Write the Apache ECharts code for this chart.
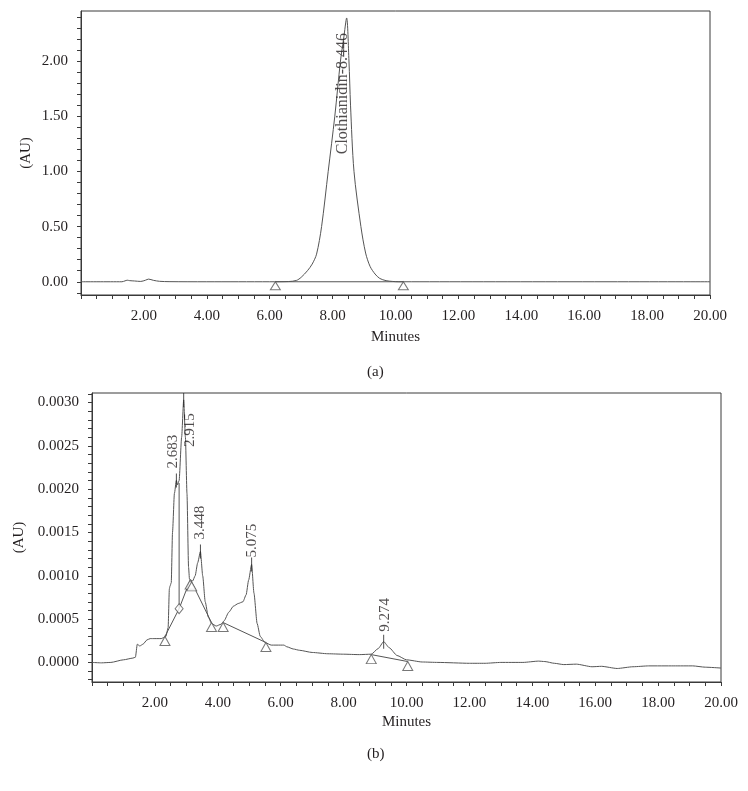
<!DOCTYPE html>
<html>
<head>
<meta charset="utf-8">
<script src="https://cdn.jsdelivr.net/npm/echarts@6/dist/echarts.min.js"></script>
<style>
html,body{margin:0;padding:0;background:#fff;}
#chart{width:748px;height:791px;}
</style>
</head>
<body>
<div id="chart"></div>
<script>
// ---------- DATA ----------
// (a) chromatogram: minutes / AU
const topTimes  = [0, 1.3, 1.4, 1.47, 1.55, 1.7, 1.9, 2.05, 2.15, 2.3, 2.5, 2.8, 4.0, 6.0, 6.6, 6.85, 7.0, 7.2, 7.35, 7.49, 7.65, 7.86, 8.07, 8.25, 8.35, 8.446, 8.52, 8.57, 8.68, 8.9, 9.05, 9.19, 9.35, 9.5, 9.7, 9.9, 10.1, 10.5, 20];
const topValues = [0, 0, 0.008, 0.014, 0.01, 0.007, 0.003, 0.014, 0.024, 0.013, 0.004, 0.001, 0, 0, 0.002, 0.012, 0.04, 0.1, 0.16, 0.25, 0.5, 1.0, 1.5, 2.0, 2.2, 2.39, 2.0, 1.6, 1.0, 0.5, 0.26, 0.14, 0.07, 0.03, 0.01, 0.003, 0, 0, 0];
const topPeakTime = [8.446];
const topPeakHeight = [2.39];
const topPeakName = ['Clothianidin'];
const topBaseTimes = [6.18, 10.25];
const topBaseValues = [0, 0];

// (b) chromatogram
const botTimes  = [0, 0.3, 0.6, 1.0, 1.3, 1.38, 1.44, 1.52, 1.62, 1.75, 1.85, 2.0, 2.2, 2.35, 2.42, 2.46, 2.48, 2.52, 2.56, 2.62, 2.683, 2.72, 2.77, 2.85, 2.915, 2.97, 3.02, 3.07, 3.1, 3.2, 3.28, 3.36, 3.448, 3.52, 3.6, 3.7, 3.8, 3.95, 4.1, 4.2, 4.35, 4.5, 4.65, 4.8, 4.9, 4.98, 5.075, 5.15, 5.25, 5.35, 5.5, 5.7, 6.0, 6.1, 6.2, 6.4, 6.6, 7.0, 7.5, 8.0, 8.5, 8.88, 9.1, 9.274, 9.45, 9.7, 10.0, 10.5, 11.0, 12.0, 12.5, 13.0, 13.7, 14.2, 14.4, 14.7, 15.0, 15.4, 15.9, 16.2, 16.7, 17.2, 17.7, 18.5, 19.1, 19.5, 20.0];
const botValues = [0, -0.000005, 0, 0.00003, 0.00005, 0.00006, 0.00021, 0.00019, 0.00021, 0.00026, 0.000275, 0.000275, 0.000275, 0.0003, 0.0004, 0.00085, 0.00088, 0.00092, 0.0015, 0.00195, 0.0021, 0.00205, 0.0021, 0.0026, 0.00303, 0.0026, 0.00195, 0.0011, 0.00096, 0.00094, 0.001, 0.00115, 0.00128, 0.001, 0.0007, 0.00052, 0.00045, 0.00042, 0.00044, 0.00048, 0.00058, 0.00065, 0.00068, 0.0007, 0.00078, 0.00095, 0.00113, 0.0008, 0.00045, 0.0003, 0.00023, 0.0002, 0.0002, 0.0002, 0.00018, 0.000155, 0.00014, 0.000115, 0.0001, 0.000095, 0.00009, 0.000095, 0.00016, 0.00024, 0.00017, 0.00008, 0.00003, 0.000005, 0, -0.00001, -0.00001, 0, 0, 0.000015, 0.00001, -0.00001, -0.000025, -0.00002, -0.00005, -0.000045, -0.00007, -0.00005, -0.00004, -0.00004, -0.00004, -0.000055, -0.000065];
const botPeakTimes   = [2.683, 2.915, 3.448, 5.075, 9.274];
const botPeakHeights = [0.0021, 0.00303, 0.00128, 0.00113, 0.00024];
// integration baselines (start/end markers)
const botBaseSegments = [
  [[2.32, 0.0003], [2.77, 0.00062], [3.12, 0.00095]],
  [[3.15, 0.00094], [3.80, 0.00046]],
  [[4.17, 0.00046], [5.53, 0.00023]],
  [[8.88, 0.00009], [10.04, 0.00001]],
  [[2.77, 0.00062], [2.77, 0.00207]]
];
const botTriangleTimes  = [2.32, 3.12, 3.17, 3.80, 4.17, 5.53, 8.88, 10.04];
const botTriangleValues = [0.0003, 0.00095, 0.00093, 0.00046, 0.00046, 0.00023, 0.00009, 0.00001];
const botDiamondTimes  = [2.77];
const botDiamondValues = [0.00062];

// tick labels
const xLabelValues   = [2, 4, 6, 8, 10, 12, 14, 16, 18, 20];
const topYLabelValues = [0, 0.5, 1.0, 1.5, 2.0];
const botYLabelValues = [0, 0.0005, 0.001, 0.0015, 0.002, 0.0025, 0.003];

// ---------- STYLE ----------
const FONT = '"Liberation Serif", "DejaVu Serif", serif';
const TXT = '#231f20';
const LINE = '#555555';
const AXIS = '#3a3a3a';

const zip = (a, b) => a.map((v, i) => [v, b[i]]);
const topYTicks = []; for (let i = -1; i <= 24; i++) topYTicks.push(Math.round(i) / 10);
const botYTicks = []; for (let i = -2; i <= 31; i++) botYTicks.push(Math.round(i * 10) / 100000);

function xAxisCfg(gridIndex, nameGap) {
  return {
    type: 'value', gridIndex, min: 0, max: 20, interval: 0.5,
    name: 'Minutes', nameLocation: 'middle', nameGap, nameMoveOverlap: false,
    nameTextStyle: { fontFamily: FONT, fontSize: 15, color: TXT },
    axisLine: { show: true, onZero: false, lineStyle: { color: AXIS, width: 1 } },
    axisTick: { show: true, length: 4, lineStyle: { color: AXIS } },
    splitLine: { show: false },
    axisLabel: {
      margin: 14, fontFamily: FONT, fontSize: 15, color: TXT,
      showMinLabel: true, showMaxLabel: true,
      formatter: v => xLabelValues.some(x => Math.abs(x - v) < 1e-9) ? v.toFixed(2) : ''
    }
  };
}
function yAxisCfg(gridIndex, min, max, ticks, labels, digits, nameGap) {
  return {
    type: 'value', gridIndex, min, max,
    name: '(AU)', nameLocation: 'middle', nameGap, nameMoveOverlap: false,
    nameTextStyle: { fontFamily: FONT, fontSize: 15, color: TXT },
    axisLine: { show: true, onZero: false, lineStyle: { color: AXIS, width: 1 } },
    axisTick: { show: true, length: 4, customValues: ticks, lineStyle: { color: AXIS } },
    splitLine: { show: false },
    axisLabel: { margin: 13, fontFamily: FONT, fontSize: 15, color: TXT, customValues: labels,
      formatter: v => v.toFixed(digits) }
  };
}

const series = [];
// (a) trace
series.push({ type: 'line', xAxisIndex: 0, yAxisIndex: 0, data: zip(topTimes, topValues),
  showSymbol: false, smooth: 0.3, lineStyle: { color: LINE, width: 1 }, silent: true, z: 3 });
series.push({ type: 'line', xAxisIndex: 0, yAxisIndex: 0, data: zip(topBaseTimes, topBaseValues),
  showSymbol: false, lineStyle: { color: LINE, width: 1 }, silent: true, z: 3 });
series.push({ type: 'scatter', xAxisIndex: 0, yAxisIndex: 0, data: zip(topBaseTimes, topBaseValues),
  symbol: 'triangle', symbolSize: [10, 8], symbolOffset: [0, 4],
  itemStyle: { color: '#fff', borderColor: LINE, borderWidth: 1 }, silent: true, z: 4 });
series.push({ type: 'scatter', xAxisIndex: 0, yAxisIndex: 0,
  data: topPeakTime.map((t, i) => ({ value: [t, topPeakHeight[i]], name: topPeakName[i] })),
  symbolSize: 2, itemStyle: { color: 'transparent' }, silent: true, z: 5,
  label: { show: true, rotate: 90, position: [1 - 3.5, 1 + 15], align: 'right', verticalAlign: 'middle',
    fontFamily: FONT, fontSize: 16, color: TXT,
    formatter: p => p.name + '-' + p.value[0].toFixed(3) } });

// (b) trace
series.push({ type: 'line', xAxisIndex: 1, yAxisIndex: 1, data: zip(botTimes, botValues),
  showSymbol: false, smooth: 0.2, smoothMonotone: 'x', lineStyle: { color: LINE, width: 1 }, silent: true, z: 3 });
botBaseSegments.forEach(seg => series.push({ type: 'line', xAxisIndex: 1, yAxisIndex: 1, data: seg,
  showSymbol: false, lineStyle: { color: LINE, width: 1 }, silent: true, z: 3 }));
series.push({ type: 'scatter', xAxisIndex: 1, yAxisIndex: 1, data: zip(botTriangleTimes, botTriangleValues),
  symbol: 'triangle', symbolSize: [10, 9], symbolOffset: [0, 4.5],
  itemStyle: { color: '#fff', borderColor: LINE, borderWidth: 1 }, silent: true, z: 4 });
series.push({ type: 'scatter', xAxisIndex: 1, yAxisIndex: 1, data: zip(botDiamondTimes, botDiamondValues),
  symbol: 'diamond', symbolSize: [8, 10],
  itemStyle: { color: '#fff', borderColor: LINE, borderWidth: 1 }, silent: true, z: 4 });
// peak tick marks
series.push({ type: 'scatter', xAxisIndex: 1, yAxisIndex: 1, data: zip(botPeakTimes, botPeakHeights),
  symbol: 'rect', symbolSize: [1, 14], itemStyle: { color: '#222' }, silent: true, z: 5 });
// peak labels (label placement nudges are styling)
const labelNudge = [[-3, 12], [6, -47], [0, 12], [0, 7], [1, 10]];
series.push({ type: 'scatter', xAxisIndex: 1, yAxisIndex: 1,
  data: botPeakTimes.map((t, i) => ({ value: [t, botPeakHeights[i]],
    label: { position: [1 + labelNudge[i][0], 1 - labelNudge[i][1]] } })),
  symbolSize: 2, itemStyle: { color: 'transparent' }, silent: true, z: 6,
  label: { show: true, rotate: 90, align: 'left', verticalAlign: 'middle',
    fontFamily: FONT, fontSize: 15, color: TXT,
    formatter: p => p.value[0].toFixed(3) } });

const chart = echarts.init(document.getElementById('chart'), null, { renderer: 'canvas' });
chart.setOption({
  animation: false,
  backgroundColor: '#fff',
  title: [
    { text: '(a)', left: 362, top: 360, textStyle: { fontFamily: FONT, fontSize: 15, fontWeight: 'normal', color: TXT } },
    { text: '(b)', left: 362, top: 742, textStyle: { fontFamily: FONT, fontSize: 15, fontWeight: 'normal', color: TXT } }
  ],
  grid: [
    { left: 81, top: 11, width: 629, height: 284, show: true, borderColor: AXIS, borderWidth: 1, containLabel: false },
    { left: 92, top: 393, width: 629, height: 289, show: true, borderColor: AXIS, borderWidth: 1, containLabel: false }
  ],
  xAxis: [xAxisCfg(0, 35), xAxisCfg(1, 33)],
  yAxis: [
    yAxisCfg(0, -0.12, 2.453, topYTicks, topYLabelValues, 2, 47),
    yAxisCfg(1, -0.000226, 0.00311, botYTicks, botYLabelValues, 4, 65)
  ],
  series
});
</script>
</body>
</html>
